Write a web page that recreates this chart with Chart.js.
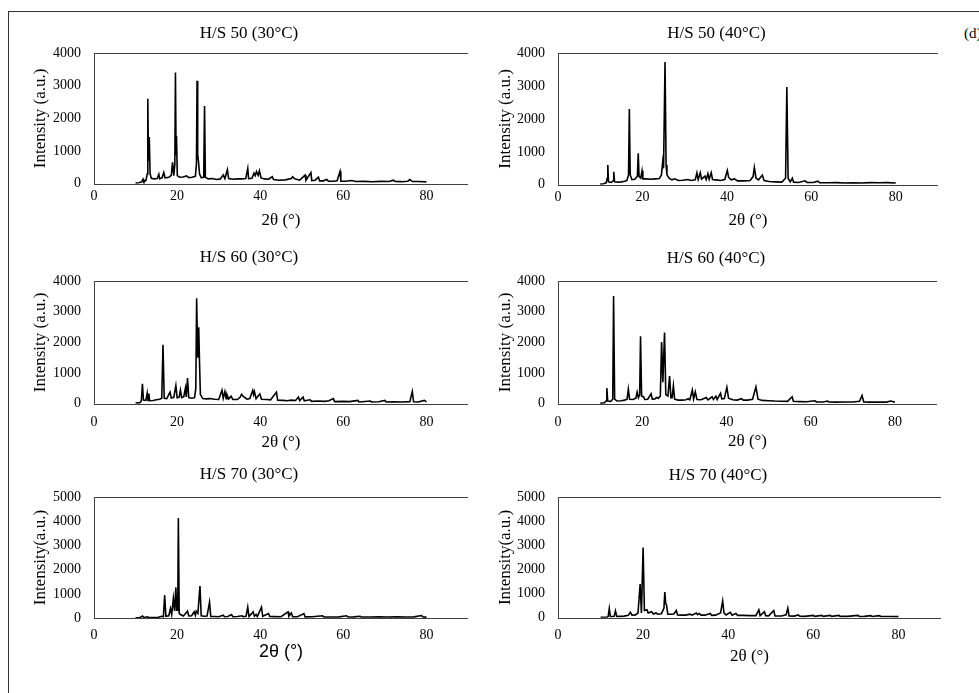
<!DOCTYPE html>
<html>
<head>
<meta charset="utf-8">
<script src="https://cdn.jsdelivr.net/npm/chart.js@4.4.1/dist/chart.umd.min.js"></script>
<style>
  body { margin: 0; width: 979px; height: 693px; overflow: hidden; background: #fff; position: relative; font-family: "Liberation Serif", serif; }
  #frame { position: absolute; left: 8px; top: 11px; width: 1000px; height: 700px; border-top: 1px solid #333; border-left: 1px solid #333; }
  #tag { position: absolute; left: 964px; top: 25px; font-size: 15px; color: #000; white-space: nowrap; }
  .panel { position: absolute; }
</style>
</head>
<body>
<div id="frame"></div>
<div id="tag">(d)</div>
<script>
// tick labels
const xTicks = [0, 20, 40, 60, 80];
const yTicks4k = [0, 1000, 2000, 3000, 4000];
const yTicks5k = [0, 1000, 2000, 3000, 4000, 5000];

// panel titles
const titles = ["H/S 50 (30°C)", "H/S 50 (40°C)", "H/S 60 (30°C)", "H/S 60 (40°C)", "H/S 70 (30°C)", "H/S 70 (40°C)"];

// XRD patterns: [2θ, intensity]
const hs50_30 = [
  [10.0, 20], [10.8, 30], [11.5, 60], [11.8, 140], [12.0, 60], [12.5, 100], [12.8, 300], [12.95, 2600],
  [13.1, 700], [13.3, 1430], [13.5, 300], [13.8, 170], [14.5, 150], [15.2, 160], [15.6, 295], [15.8, 150],
  [16.4, 190], [16.8, 345], [17.1, 180], [18.0, 200], [18.6, 260], [18.9, 660], [19.2, 250], [19.45, 600],
  [19.6, 3400], [19.75, 900], [19.85, 1460], [20.05, 250], [20.6, 200], [21.4, 210], [22.3, 240], [22.8, 190],
  [23.6, 200], [24.4, 230], [24.65, 600], [24.8, 3150], [24.95, 900], [25.15, 670], [25.4, 300], [25.8, 190],
  [26.4, 200], [26.6, 2380], [26.8, 200], [27.5, 150], [28.5, 160], [29.5, 130], [30.4, 150], [31.1, 275],
  [31.5, 160], [32.1, 430], [32.4, 160], [33.5, 140], [34.5, 150], [35.5, 150], [36.5, 160], [37.0, 470],
  [37.2, 160], [38.0, 170], [38.5, 325], [38.8, 250], [39.1, 375], [39.5, 260], [39.8, 400], [40.2, 180],
  [41.0, 150], [42.0, 140], [42.9, 215], [43.2, 130], [44.5, 110], [46.0, 120], [47.5, 160], [47.8, 215],
  [48.3, 150], [49.5, 110], [50.8, 265], [51.0, 110], [52.2, 345], [52.4, 100], [53.2, 110], [54.0, 200],
  [54.3, 90], [55.2, 90], [56.0, 130], [56.4, 80], [57.5, 80], [58.5, 90], [59.2, 380], [59.4, 80],
  [60.5, 80], [62.0, 100], [63.0, 70], [65.0, 75], [67.0, 65], [69.0, 75], [71.0, 70], [72.0, 110],
  [72.5, 70], [74.0, 65], [75.5, 80], [76.0, 130], [76.6, 70], [78.0, 70], [80.0, 60]
];
const hs50_40 = [
  [10.0, 20], [10.8, 30], [11.4, 60], [11.65, 200], [11.8, 600], [11.95, 90], [12.6, 70], [13.05, 120],
  [13.2, 395], [13.4, 90], [14.2, 80], [15.0, 90], [15.8, 110], [16.3, 130], [16.7, 300], [16.9, 2300],
  [17.1, 300], [17.5, 160], [18.2, 170], [18.8, 260], [19.0, 960], [19.2, 250], [19.6, 200], [19.9, 425],
  [20.1, 180], [21.0, 180], [22.0, 170], [23.0, 180], [24.0, 190], [24.5, 300], [24.8, 700], [25.0, 500],
  [25.35, 3730], [25.6, 600], [25.8, 310], [26.3, 200], [27.0, 150], [27.6, 180], [28.5, 130], [29.5, 140],
  [30.8, 160], [31.5, 130], [32.5, 150], [32.9, 365], [33.2, 160], [33.7, 365], [34.0, 170], [34.8, 260],
  [35.1, 160], [35.5, 335], [35.8, 170], [36.3, 365], [36.6, 160], [37.5, 150], [38.5, 130], [39.5, 160],
  [40.1, 435], [40.4, 230], [41.0, 150], [41.8, 180], [42.5, 120], [44.0, 120], [45.5, 130], [46.2, 250],
  [46.5, 525], [46.9, 200], [47.5, 150], [48.4, 295], [48.8, 130], [50.0, 100], [51.5, 90], [53.0, 80],
  [53.9, 200], [54.2, 2970], [54.5, 200], [55.0, 90], [55.5, 200], [55.8, 80], [57.0, 70], [58.5, 120],
  [59.0, 70], [60.5, 70], [61.5, 110], [62.0, 65], [64.0, 60], [66.0, 65], [68.0, 55], [70.0, 60],
  [72.0, 55], [74.0, 65], [76.0, 60], [78.0, 65], [80.0, 55]
];
const hs60_30 = [
  [10.0, 30], [11.0, 30], [11.4, 100], [11.65, 650], [11.9, 120], [12.5, 110], [12.8, 345], [13.0, 110],
  [13.2, 335], [13.4, 100], [14.2, 110], [15.0, 130], [15.8, 150], [16.3, 180], [16.6, 1920], [16.9, 180],
  [17.5, 170], [18.3, 380], [18.6, 190], [19.2, 210], [19.7, 595], [20.0, 200], [20.5, 220], [20.8, 445],
  [21.1, 200], [21.6, 230], [22.0, 510], [22.2, 220], [22.5, 835], [22.8, 200], [23.5, 180], [24.2, 200],
  [24.5, 500], [24.7, 3440], [24.95, 1500], [25.2, 2490], [25.4, 1300], [25.6, 300], [26.2, 170], [27.0, 160],
  [28.0, 170], [29.0, 150], [30.0, 140], [30.8, 445], [31.1, 180], [31.5, 400], [31.8, 170], [32.0, 295],
  [32.4, 160], [33.0, 250], [33.4, 140], [34.5, 140], [35.2, 220], [35.5, 310], [36.0, 230], [36.8, 150],
  [37.5, 170], [38.2, 435], [38.4, 300], [38.6, 400], [39.0, 170], [39.9, 325], [40.3, 150], [41.5, 140],
  [42.5, 130], [43.9, 380], [44.2, 120], [45.5, 110], [46.5, 100], [47.5, 120], [48.5, 110], [49.2, 220],
  [49.5, 100], [50.3, 220], [50.6, 100], [52.0, 130], [52.4, 80], [54.0, 90], [55.5, 80], [56.5, 100],
  [57.6, 170], [57.9, 70], [60.0, 80], [61.5, 70], [63.5, 110], [63.8, 60], [66.5, 90], [66.8, 60],
  [68.5, 65], [70.0, 110], [70.3, 60], [72.0, 65], [74.0, 60], [76.0, 70], [76.6, 400], [76.9, 65],
  [78.0, 60], [79.5, 110], [80.0, 60]
];
const hs60_40 = [
  [10.0, 20], [11.0, 30], [11.4, 90], [11.6, 510], [11.8, 90], [12.5, 80], [13.0, 150], [13.2, 3510],
  [13.45, 150], [14.0, 90], [15.0, 100], [15.8, 120], [16.4, 150], [16.7, 475], [17.0, 150], [17.8, 140],
  [18.5, 180], [18.8, 380], [19.1, 200], [19.4, 300], [19.6, 2200], [19.85, 250], [20.3, 230], [20.6, 140],
  [21.3, 150], [22.1, 325], [22.4, 150], [23.0, 160], [23.4, 205], [23.8, 180], [24.3, 250], [24.6, 2010],
  [24.9, 700], [25.3, 2320], [25.6, 300], [26.1, 250], [26.5, 900], [26.8, 200], [27.1, 200], [27.4, 585],
  [27.7, 150], [28.5, 120], [29.5, 120], [30.4, 130], [30.9, 165], [31.3, 130], [31.9, 445], [32.2, 160],
  [32.6, 390], [33.0, 140], [34.0, 130], [35.2, 205], [35.6, 130], [36.6, 230], [36.9, 140], [37.5, 250],
  [37.8, 140], [38.6, 345], [38.9, 160], [39.5, 170], [40.1, 540], [40.5, 180], [41.5, 130], [42.5, 120],
  [43.6, 165], [44.0, 120], [45.0, 120], [46.2, 150], [47.0, 550], [47.5, 150], [48.5, 110], [50.0, 100],
  [51.5, 90], [53.0, 85], [54.5, 80], [55.6, 230], [55.9, 80], [57.5, 70], [59.0, 65], [61.0, 100],
  [61.4, 60], [63.0, 60], [64.0, 90], [64.3, 60], [66.0, 55], [68.0, 60], [70.0, 60], [71.6, 80],
  [72.2, 270], [72.6, 60], [74.0, 55], [76.0, 60], [78.0, 55], [79.0, 90], [80.0, 55]
];
const hs70_30 = [
  [10.0, 20], [11.0, 20], [11.7, 90], [12.0, 30], [12.9, 60], [13.2, 25], [14.5, 30], [15.5, 40],
  [16.3, 80], [16.7, 60], [17.0, 950], [17.3, 80], [18.0, 100], [18.4, 400], [18.7, 150], [19.1, 815],
  [19.4, 300], [19.7, 1270], [19.9, 300], [20.0, 540], [20.15, 300], [20.3, 4130], [20.5, 200], [20.8, 150],
  [21.5, 90], [22.5, 290], [22.8, 90], [23.5, 100], [24.1, 260], [24.4, 120], [24.6, 290], [25.0, 200],
  [25.5, 1330], [25.8, 100], [26.5, 80], [27.2, 90], [27.8, 665], [28.1, 70], [29.0, 70], [30.0, 60],
  [31.1, 120], [31.4, 60], [32.2, 70], [33.1, 150], [33.4, 60], [34.5, 70], [35.6, 100], [35.9, 60],
  [36.6, 80], [37.0, 455], [37.3, 70], [38.3, 260], [38.6, 80], [39.0, 150], [39.3, 70], [40.3, 455],
  [40.6, 80], [42.0, 190], [42.3, 70], [43.5, 65], [45.0, 60], [46.7, 260], [46.9, 80], [47.5, 220],
  [47.8, 60], [49.0, 60], [50.5, 190], [50.8, 55], [52.5, 60], [55.0, 100], [55.3, 55], [57.0, 50],
  [59.0, 55], [60.8, 100], [61.1, 50], [62.5, 55], [64.0, 80], [64.3, 50], [66.5, 50], [68.5, 55],
  [70.5, 50], [73.0, 55], [75.0, 50], [77.0, 55], [78.8, 110], [79.2, 50], [80.0, 45]
];
const hs70_40 = [
  [10.0, 20], [11.5, 20], [11.8, 60], [12.05, 385], [12.3, 50], [13.2, 60], [13.5, 290], [13.8, 60],
  [14.5, 60], [15.5, 70], [16.5, 100], [17.0, 230], [17.4, 110], [18.2, 120], [18.8, 200], [19.3, 1400],
  [19.6, 200], [20.0, 2910], [20.3, 300], [20.9, 330], [21.2, 200], [22.0, 250], [22.4, 160], [23.0, 200],
  [23.5, 150], [24.3, 170], [24.9, 400], [25.1, 1070], [25.3, 600], [25.5, 530], [25.8, 150], [26.5, 150],
  [27.2, 160], [27.8, 300], [28.1, 120], [29.0, 110], [30.0, 110], [31.0, 150], [31.5, 110], [32.5, 200],
  [32.8, 130], [33.2, 180], [33.6, 110], [34.5, 110], [35.8, 180], [36.1, 100], [37.0, 110], [38.2, 200],
  [38.7, 700], [39.0, 200], [39.5, 120], [40.5, 230], [40.9, 110], [41.8, 180], [42.2, 100], [43.5, 100],
  [45.0, 90], [46.5, 90], [47.2, 330], [47.5, 90], [48.5, 250], [48.8, 90], [49.5, 80], [50.7, 300],
  [51.0, 80], [52.5, 75], [53.6, 120], [54.0, 400], [54.3, 80], [55.5, 70], [56.5, 120], [56.8, 65],
  [58.0, 60], [60.0, 100], [60.3, 60], [62.0, 100], [62.3, 60], [64.0, 100], [64.3, 60], [66.0, 100],
  [66.3, 60], [68.0, 60], [70.5, 100], [70.8, 55], [72.0, 60], [73.5, 90], [73.8, 55], [75.5, 90],
  [75.8, 55], [78.0, 55], [80.0, 50]
];

const serif = "'Liberation Serif', 'Times New Roman', serif";
const sans = "'Liberation Sans', Arial, sans-serif";

// where each small chart sits on the page (plot area box, title centres)
const panels = [
  { data: hs50_30, title: titles[0], yTicks: yTicks4k, yLabel: "Intensity (a.u.)", yTitleX: 40, titleY: 33, plotL: 94, plotR: 468, plotT: 53, plotB: 184, tickPad: 4, xTitleY: 221, xFont: serif, xSize: 17 },
  { data: hs50_40, title: titles[1], yTicks: yTicks4k, yLabel: "Intensity (a.u.)", yTitleX: 505, titleY: 33, plotL: 558, plotR: 938, plotT: 53, plotB: 185, tickPad: 4, xTitleY: 221, xFont: serif, xSize: 17 },
  { data: hs60_30, title: titles[2], yTicks: yTicks4k, yLabel: "Intensity (a.u.)", yTitleX: 40, titleY: 257, plotL: 94, plotR: 468, plotT: 281, plotB: 404, tickPad: 10, xTitleY: 443, xFont: serif, xSize: 17 },
  { data: hs60_40, title: titles[3], yTicks: yTicks4k, yLabel: "Intensity (a.u.)", yTitleX: 505, titleY: 258, plotL: 558, plotR: 937, plotT: 281, plotB: 404, tickPad: 10, xTitleY: 442, xFont: serif, xSize: 17 },
  { data: hs70_30, title: titles[4], yTicks: yTicks5k, yLabel: "Intensity(a.u.)", yTitleX: 40, titleY: 474, plotL: 94, plotR: 468, plotT: 497, plotB: 618, tickPad: 9, xTitleY: 652, xFont: sans, xSize: 18 },
  { data: hs70_40, title: titles[5], yTicks: yTicks5k, yLabel: "Intensity(a.u.)", yTitleX: 505, titleY: 475, plotL: 558, plotR: 941, plotT: 497, plotB: 618, tickPad: 9, xTitleY: 657, xFont: serif, xSize: 17 }
];

// plot-area frame like the Excel box
const boxPlugin = {
  id: "box",
  afterDraw(chart) {
    const { ctx, chartArea: a } = chart;
    ctx.save();
    ctx.strokeStyle = "#404040";
    ctx.lineWidth = 1;
    ctx.strokeRect(Math.round(a.left) + 0.5, Math.round(a.top) + 0.5, Math.round(a.right - a.left), Math.round(a.bottom - a.top));
    ctx.restore();
  }
};

function makePanel(p) {
  const titleSize = 17;
  const left = Math.round(p.yTitleX - titleSize * 0.6);
  const top = Math.round(p.titleY - titleSize * 0.6 - 2);
  const width = p.plotR - left;
  const xH = p.xTitleY - p.plotB + p.xSize * 0.6;
  const height = Math.round(p.plotB + xH - top);

  const div = document.createElement("div");
  div.className = "panel";
  div.style.left = left + "px";
  div.style.top = top + "px";
  const canvas = document.createElement("canvas");
  canvas.width = width;
  canvas.height = height;
  div.appendChild(canvas);
  document.body.appendChild(div);

  new Chart(canvas, {
    type: "line",
    data: {
      datasets: [{
        data: p.data.map((d) => ({ x: d[0], y: d[1] })),
        borderColor: "#000",
        borderWidth: 1.6,
        pointRadius: 0,
        tension: 0,
        fill: false
      }]
    },
    options: {
      responsive: false,
      animation: false,
      layout: { padding: 0 },
      plugins: {
        legend: { display: false },
        tooltip: { enabled: false },
        title: {
          display: true,
          text: p.title,
          color: "#000",
          font: { family: serif, size: titleSize, weight: "normal" },
          padding: { top: 2, bottom: p.plotT - top - 2 - titleSize * 1.2 }
        }
      },
      scales: {
        x: {
          type: "linear",
          min: 0,
          max: 90,
          afterBuildTicks: (s) => { s.ticks = xTicks.map((v) => ({ value: v })); },
          afterFit: (s) => { s.height = xH; },
          grid: { display: false, drawTicks: false },
          border: { display: false },
          ticks: { padding: p.tickPad, color: "#000", maxRotation: 0, autoSkip: false, font: { family: serif, size: 14 }, callback: (v) => String(v) },
          title: { display: true, text: "2θ (°)", color: "#000", padding: 0, font: { family: p.xFont, size: p.xSize } }
        },
        y: {
          min: 0,
          max: p.yTicks[p.yTicks.length - 1],
          afterBuildTicks: (s) => { s.ticks = p.yTicks.map((v) => ({ value: v })); },
          afterFit: (s) => { s.width = p.plotL - left; },
          grid: { display: false, drawTicks: false },
          border: { display: false },
          ticks: { padding: 13, color: "#000", font: { family: serif, size: 14 }, callback: (v) => String(v) },
          title: { display: true, text: p.yLabel, color: "#000", padding: 0, font: { family: serif, size: 17 } }
        }
      }
    },
    plugins: [boxPlugin]
  });
}

panels.forEach(makePanel);
</script>
</body>
</html>
